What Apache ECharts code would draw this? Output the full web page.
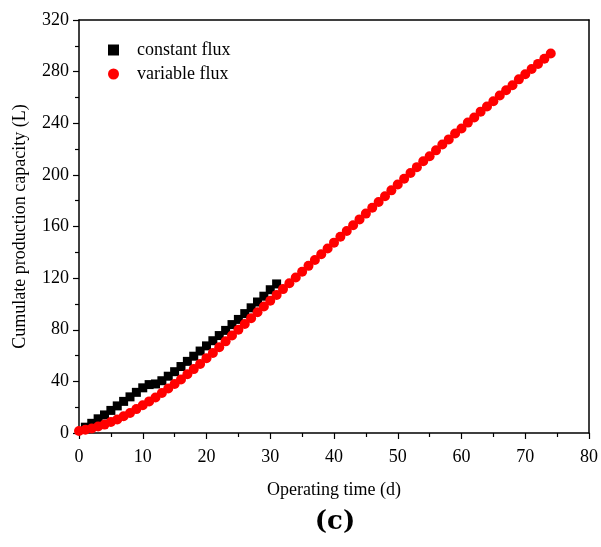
<!DOCTYPE html>
<html>
<head>
<meta charset="utf-8">
<script src="https://cdn.jsdelivr.net/npm/echarts@6/dist/echarts.min.js"></script>
<style>html,body{margin:0;padding:0;background:#fff}#c{width:601px;height:547px}</style>
</head>
<body>
<div id="c"></div>
<script>
const constantDays = [1,2,3,4,5,6,7,8,9,10,11,12,13,14,15,16,17,18,19,20,21,22,23,24,25,26,27,28,29,30,31];
const constantFlux = [4.5,7.5,11,14,17.5,21,24.5,28,31.5,35,37.5,38,40.5,44,47.5,51.5,55.5,59.5,63.5,67.5,71.5,75.5,79.5,84,88,92.5,97,101.5,106,111,115.5];
const variableDays = [0,1,2,3,4,5,6,7,8,9,10,11,12,13,14,15,16,17,18,19,20,21,22,23,24,25,26,27,28,29,30,31,32,33,34,35,36,37,38,39,40,41,42,43,44,45,46,47,48,49,50,51,52,53,54,55,56,57,58,59,60,61,62,63,64,65,66,67,68,69,70,71,72,73,74];
const variableFlux = [1.5,2.5,3.5,5,6.5,8.5,10.5,13,15.5,18.5,21.5,24.5,27.5,31,34.5,38,41.5,45.5,49.5,53.5,58,62,66.5,71,75.5,80,84.5,89,93.5,98,102.5,107,111.5,116,120.5,125,129.5,134,138.5,143,147.5,152,156.5,161,165.5,170,174.5,179,183.5,188,192.5,197,201.5,206,210.5,214.5,219,223.5,227.5,232,236,240.5,244.5,249,253,257,261.5,265.5,269.5,274,278,282,286,290,294];
const seriesNames = ['constant flux','variable flux'];
const xTitle = 'Operating time (d)';
const yTitle = 'Cumulate production capacity (L)';
const panelLabel = '(c)';

const serif = 'Liberation Serif';
const chart = echarts.init(document.getElementById('c'));
const axisCommon = {
  axisLine: {show: true, onZero: false, lineStyle: {color: '#000', width: 1.5}},
  axisTick: {show: true, inside: false, length: 6, lineStyle: {color: '#000', width: 1.2}},
  minorTick: {show: true, splitNumber: 2, length: 4, lineStyle: {color: '#000', width: 1.2}},
  splitLine: {show: false}
};
chart.setOption({
  animation: false,
  title: {text: panelLabel, left: 330, top: 504, textAlign: 'center',
    textStyle: {fontFamily: 'DejaVu Serif', fontWeight: 'bold', fontSize: 26, color: '#000'}},
  legend: {
    left: 103, top: 36, orient: 'vertical', itemGap: 6, itemWidth: 11, itemHeight: 11,
    textStyle: {fontFamily: serif, fontSize: 18, color: '#000', padding: [0,0,0,13]},
    data: [{name: seriesNames[0], icon: 'rect', itemStyle: {color: '#000'}},
           {name: seriesNames[1], icon: 'circle', itemStyle: {color: '#ff0000'}}]
  },
  grid: {left: 79, right: 9, top: 20, bottom: 114, containLabel: false},
  xAxis: [
    Object.assign({}, axisCommon, {type: 'value', min: 0, max: 80, interval: 10,
      name: xTitle, nameLocation: 'middle', nameGap: 48,
      nameTextStyle: {fontFamily: serif, fontSize: 18, color: '#000'},
      axisLabel: {color: '#000', fontFamily: serif, fontSize: 18, margin: 15}}),
    {type: 'value', position: 'top', min: 0, max: 80, interval: 10,
      axisLine: {show: true, onZero: false, lineStyle: {color: '#000', width: 1.5}},
      axisTick: {show: false}, axisLabel: {show: false}, splitLine: {show: false}}
  ],
  yAxis: [
    Object.assign({}, axisCommon, {type: 'value', min: 0, max: 320, interval: 40,
      name: yTitle, nameLocation: 'middle', nameGap: 50,
      nameTextStyle: {fontFamily: serif, fontSize: 18, color: '#000'},
      axisLabel: {color: '#000', fontFamily: serif, fontSize: 18, margin: 10}}),
    {type: 'value', position: 'right', min: 0, max: 320, interval: 40,
      axisLine: {show: true, onZero: false, lineStyle: {color: '#000', width: 1.5}},
      axisTick: {show: false}, axisLabel: {show: false}, splitLine: {show: false}}
  ],
  series: [
    {name: seriesNames[0], type: 'scatter', symbol: 'rect', symbolSize: 9,
      itemStyle: {color: '#000', opacity: 1}, z: 3,
      data: constantDays.map((d, i) => [d, constantFlux[i]])},
    {name: seriesNames[1], type: 'scatter', symbol: 'circle', symbolSize: 10,
      itemStyle: {color: '#ff0000', opacity: 1}, z: 4,
      data: variableDays.map((d, i) => [d, variableFlux[i]])}
  ]
});
</script>
</body>
</html>
